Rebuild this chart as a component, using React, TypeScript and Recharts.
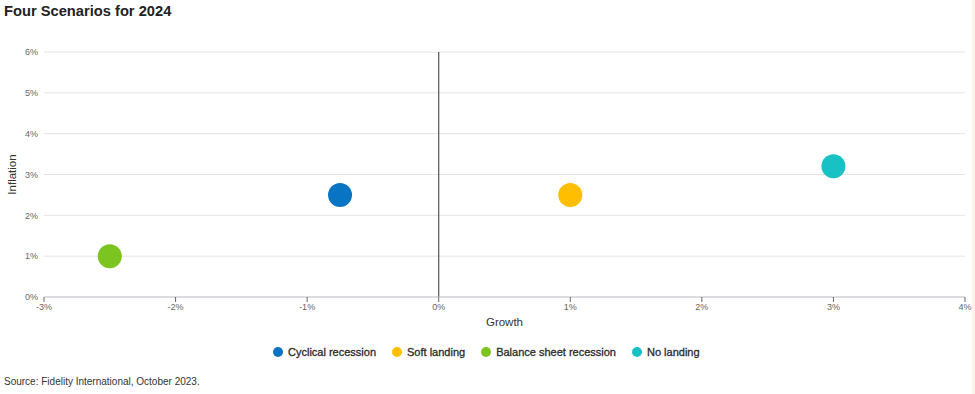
import React from 'react';
import {
  ScatterChart,
  Scatter,
  XAxis,
  YAxis,
  CartesianGrid,
  ReferenceLine
} from 'recharts';

const scenarios = ['Cyclical recession', 'Soft landing', 'Balance sheet recession', 'No landing'];
const growth = [-0.75, 1, -2.5, 3];
const inflation = [2.5, 2.5, 1, 3.2];
const colors = ['#0a74c4', '#ffbe00', '#7cc520', '#17c1c4'];

const xTicks = [-3, -2, -1, 0, 1, 2, 3, 4];
const yTicks = [0, 1, 2, 3, 4, 5, 6];

const FONT = '"Liberation Sans", Arial, sans-serif';

const Dot = (props: any) => {
  const { cx, cy, fill } = props;
  return <circle cx={cx} cy={cy} r={12} fill={fill} />;
};

const InflationLabel = ({ viewBox }: any) => {
  const cy = viewBox.y + viewBox.height / 2;
  return (
    <text
      x={12}
      y={cy}
      transform={`rotate(-90, 12, ${cy})`}
      textAnchor="middle"
      dominantBaseline="central"
      fontSize={11.5}
      fill="#333"
      fontFamily={FONT}
    >
      Inflation
    </text>
  );
};

const App = () => {
  return (
    <div style={{ position: 'absolute', left: 0, top: 0, width: 975, height: 394, background: '#fff', fontFamily: FONT }}>
      <div style={{ position: 'absolute', left: 4, top: 3, fontSize: 14.7, fontWeight: 'bold', color: '#222' }}>
        Four Scenarios for 2024
      </div>

      <div style={{ position: 'absolute', left: 0, top: 0 }}>
        <ScatterChart width={975} height={394} margin={{ top: 52, right: 10, left: 0, bottom: 0 }}>
          <CartesianGrid vertical={false} stroke="#e4e4e4" />
          <XAxis
            type="number"
            dataKey="x"
            domain={[-3, 4]}
            ticks={xTicks}
            interval={0}
            height={97}
            axisLine={{ stroke: '#c8c8d0' }}
            tickLine={{ stroke: '#666' }}
            tickSize={5}
            tickMargin={2}
            tick={{ fill: '#666', fontSize: 9, fontFamily: FONT }}
            tickFormatter={(v) => `${v}%`}
            label={{ value: 'Growth', position: 'insideTop', offset: 21, fontSize: 11.5, fill: '#333', fontFamily: FONT }}
          />
          <YAxis
            type="number"
            dataKey="y"
            domain={[0, 6]}
            ticks={yTicks}
            interval={0}
            width={44}
            axisLine={false}
            tickLine={false}
            tickSize={0}
            tickMargin={6}
            tick={{ fill: '#666', fontSize: 9, fontFamily: FONT }}
            tickFormatter={(v) => `${v}%`}
            label={<InflationLabel />}
          />
          <ReferenceLine x={0} stroke="#555" strokeWidth={1.2} />
          {scenarios.map((name, i) => (
            <Scatter
              key={name}
              name={name}
              data={[{ x: growth[i], y: inflation[i] }]}
              fill={colors[i]}
              shape={<Dot />}
              isAnimationActive={false}
            />
          ))}
        </ScatterChart>
      </div>

      <div
        style={{
          position: 'absolute',
          left: 273,
          top: 346,
          display: 'flex',
          gap: 16,
          fontSize: 11,
          color: '#2a2a2a',
          whiteSpace: 'nowrap'
        }}
      >
        {scenarios.map((name, i) => (
          <div key={name} style={{ display: 'flex', alignItems: 'center' }}>
            <span
              style={{
                display: 'inline-block',
                width: 10,
                height: 10,
                borderRadius: 5,
                background: colors[i],
                marginRight: 5
              }}
            />
            <span style={{ WebkitTextStroke: '0.3px #2a2a2a' }}>{name}</span>
          </div>
        ))}
      </div>

      <div style={{ position: 'absolute', left: 4, top: 376, fontSize: 10, color: '#333' }}>
        Source: Fidelity International, October 2023.
      </div>

      <div style={{ position: 'absolute', left: 972, top: 0, width: 3, height: 394, background: '#fbf4ea' }} />
    </div>
  );
};

export default App;
